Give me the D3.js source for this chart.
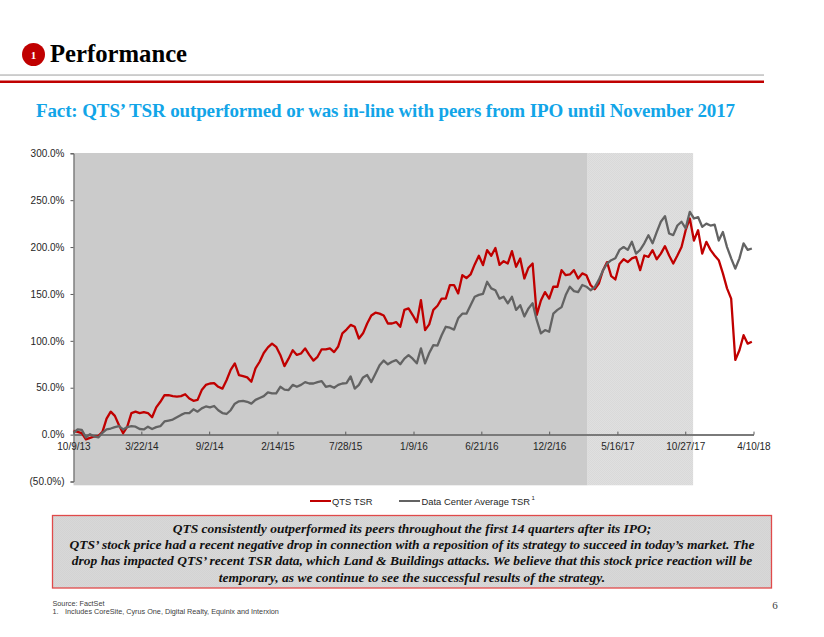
<!DOCTYPE html>
<html>
<head>
<meta charset="utf-8">
<script src="https://cdn.jsdelivr.net/npm/d3@7"></script>
<style>
html, body { margin: 0; padding: 0; background: #fff; }
svg { display: block; }
.sans { font-family: "Liberation Sans", Arial, sans-serif; }
.serif { font-family: "Liberation Serif", "Times New Roman", serif; }
.axis text { font-family: "Liberation Sans", Arial, sans-serif; font-size: 10px; fill: #262626; }
</style>
</head>
<body>
<svg id="chart" width="824" height="637"></svg>
<script>
// one reading every 10 days from the IPO date, % TSR
var startDate = "10/9/13";
var endDate = "4/10/18";
var stepDays = 10;

var qtsTsr = [
	4,3,1.5,-5,-3.5,-2,-1.5,3,17,24.5,
	20,10,1.5,8.5,23,24.5,23,24,23,18.5,
	29,35,42,42,41,40.5,41,43,38.5,36,
	37,47.5,53,54.5,55,51,49,58,69,76,
	63.5,62.4,61,56.4,70.6,77.7,87,93,97,93.6,
	85,73,81,90,85,86.5,92,85,79,83,
	91,91,92,88,94,108,112,117,115,102.5,
	108,118.5,127,130,129,127,118.5,118.5,120,115,
	133,134.6,127.5,119.7,143.5,111.5,117.6,133,137.4,145,
	145,159.5,159.5,150.6,170,167,170.8,181.5,190.7,180.8,
	196.7,190.7,199,181,185,182.5,195.7,179,187.8,166.5,
	178,182.5,127.5,143,152,145,157.7,157.7,175.4,170,
	170.8,175.4,166.5,171.9,170,159.5,155,161,175,184,
	169,165.5,182,187,184,188,189.6,175.4,191,189.6,
	196.7,187,193,201,191,182.5,191,200,218,230.5,
	207,218,193,205.6,197,191,186,172,156,145,
	79.6,90,106,97,99
];

var dataCenterTsr = [
	2,5.5,5,-3,0.5,-2,-3,2,5.5,6.5,
	8,9,5.5,8,9,8.5,6,5.5,8.5,6,
	8,9,14,15,16,18.5,21,23,23,27,
	24.5,28,30,29,30.5,26,23,22,26,33,
	35.5,36,35,33,37,39,41,45,44,44,
	51,48,47.5,53,51,53,56,54.5,54.5,56,
	57,51,52,50,53,54.5,55,62,49,53,
	61,63.5,56,65,74,79,75,77.7,79.5,75,
	81,84.7,81,76,92,76,87,95.4,95,106,
	115,114,112,124,129,129,138,147,149,150,
	163,156,154,145,147,140,147,133,138,126,
	134.6,140,122,108,111.5,109.7,129,133,136,148.8,
	157.7,153,152,159.5,157.7,154,157,165,175,182.5,
	186,188,197,200,197,205.6,193,197,204,212.7,
	204,216,227,233,214.5,212.7,223,227,220,237.6,
	230.5,232,221.6,225,223,224,207,216,200,188,
	177,188,204,197,198.5
];

var dateTicks = ["10/9/13","3/22/14","9/2/14","2/14/15","7/28/15","1/9/16","6/21/16","12/2/16","5/16/17","10/27/17","4/10/18"];
var valueTicks = [-50,0,50,100,150,200,250,300];
var darkShadeEnd = "3/5/17";
var lightShadeEnd = "11/15/17";

var noteLines = [
	"QTS consistently outperformed its peers throughout the first 14 quarters after its IPO;",
	"QTS\u2019 stock price had a recent negative drop in connection with a reposition of its strategy to succeed in today\u2019s market. The",
	"drop has impacted QTS\u2019 recent TSR data, which Land & Buildings attacks. We believe that this stock price reaction will be",
	"temporary, as we continue to see the successful results of the strategy."
];

var parseDate = d3.timeParse("%-m/%-d/%y");
var formatDate = d3.timeFormat("%-m/%-d/%y");
var formatValue = function(d) {
	return d < 0 ? "(" + Math.abs(d).toFixed(1) + "%)" : d.toFixed(1) + "%";
};

var svg = d3.select("#chart");
var defs = svg.append("defs");

var addDither = function(id, c1, c2) {
	var p = defs.append("pattern").attr("id", id).attr("width", 2).attr("height", 2)
		.attr("patternUnits", "userSpaceOnUse");
	p.append("rect").attr("width", 2).attr("height", 2).attr("fill", c1);
	p.append("rect").attr("width", 1).attr("height", 1).attr("fill", c2);
	p.append("rect").attr("x", 1).attr("y", 1).attr("width", 1).attr("height", 1).attr("fill", c2);
};
addDither("lightDither", "#e0e0e0", "#d9d9d9");
addDither("noteDither", "#d8d8d8", "#d3d3d3");

// header
svg.append("circle").attr("cx", 33.5).attr("cy", 54.5).attr("r", 11.5).attr("fill", "#c00000");
svg.append("text").attr("class", "serif").attr("x", 33.5).attr("y", 58.5)
	.attr("text-anchor", "middle").attr("font-size", 11).attr("font-weight", "bold")
	.attr("fill", "#fff").text("1");
svg.append("text").attr("class", "serif").attr("x", 50).attr("y", 62)
	.attr("font-size", 24.7).attr("font-weight", "bold").attr("fill", "#000").text("Performance");
svg.append("rect").attr("x", 0).attr("y", 74.3).attr("width", 764).attr("height", 1.5).attr("fill", "#bfbfbf");
svg.append("rect").attr("x", 0).attr("y", 80.5).attr("width", 764).attr("height", 2.5).attr("fill", "#c00000");
svg.append("text").attr("class", "serif").attr("x", 36).attr("y", 117)
	.attr("font-size", 19).attr("font-weight", "bold").attr("fill", "#12a5e8")
	.attr("textLength", 699).attr("lengthAdjust", "spacing")
	.text("Fact: QTS\u2019 TSR outperformed or was in-line with peers from IPO until November 2017");

// scales
var x = d3.scaleTime().domain([parseDate(startDate), parseDate(endDate)]).range([73.5, 753.5]);
var y = d3.scaleLinear().domain([-50, 300]).range([481.5, 153.3]);

// shaded periods
svg.append("rect").attr("x", x.range()[0]).attr("y", 153)
	.attr("width", x(parseDate(darkShadeEnd)) - x.range()[0]).attr("height", 332.3).attr("fill", "#cbcbcb");
svg.append("rect").attr("x", x(parseDate(darkShadeEnd))).attr("y", 153)
	.attr("width", x(parseDate(lightShadeEnd)) - x(parseDate(darkShadeEnd))).attr("height", 332.3)
	.attr("fill", "url(#lightDither)");

// axes
var yAxis = d3.axisLeft(y).tickValues(valueTicks).tickFormat(formatValue).tickSize(3).tickPadding(6);
var gy = svg.append("g").attr("class", "axis").attr("transform", "translate(" + x.range()[0] + ",0)").call(yAxis);
gy.selectAll("path,line").attr("stroke", "#595959");

var xAxis = d3.axisBottom(x).tickValues(dateTicks.map(parseDate)).tickFormat(formatDate)
	.tickSize(-3).tickSizeOuter(0).tickPadding(8);
var gx = svg.append("g").attr("class", "axis").attr("transform", "translate(0," + y(0) + ")").call(xAxis);
gx.select("path").attr("stroke", "#7a7a7a").attr("stroke-width", 2);
gx.selectAll("line").attr("stroke", "#595959");

// series
var sampleDate = function(i) {
	return d3.timeDay.offset(parseDate(startDate), i * stepDays);
};
var line = d3.line()
	.x(function(d, i) { return x(sampleDate(i)); })
	.y(function(d) { return y(d); })
	.curve(d3.curveLinear);

svg.append("path").datum(qtsTsr).attr("d", line).attr("fill", "none")
	.attr("stroke", "#c00000").attr("stroke-width", 2.3).attr("stroke-linejoin", "round");
svg.append("path").datum(dataCenterTsr).attr("d", line).attr("fill", "none")
	.attr("stroke", "#636363").attr("stroke-width", 2.3).attr("stroke-linejoin", "round");

// legend
svg.append("line").attr("x1", 310).attr("x2", 331).attr("y1", 501).attr("y2", 501)
	.attr("stroke", "#c00000").attr("stroke-width", 2);
svg.append("text").attr("class", "sans").attr("x", 332).attr("y", 505)
	.attr("font-size", 9.4).attr("fill", "#262626").text("QTS TSR");
svg.append("line").attr("x1", 399).attr("x2", 420).attr("y1", 501).attr("y2", 501)
	.attr("stroke", "#636363").attr("stroke-width", 2);
svg.append("text").attr("class", "sans").attr("x", 421.5).attr("y", 505)
	.attr("font-size", 9.4).attr("fill", "#262626").text("Data Center Average TSR");
svg.append("text").attr("class", "sans").attr("x", 531.5).attr("y", 500)
	.attr("font-size", 6).attr("fill", "#262626").text("1");

// note box
svg.append("rect").attr("x", 52.5).attr("y", 515.5).attr("width", 719).attr("height", 72.5)
	.attr("fill", "url(#noteDither)").attr("stroke", "#e04a4a").attr("stroke-width", 1.3);
svg.selectAll("text.note").data(noteLines).enter().append("text")
	.attr("class", "note serif")
	.attr("x", 412)
	.attr("y", function(d, i) { return 533 + i * 16.2; })
	.attr("text-anchor", "middle")
	.attr("font-size", 13.5).attr("font-weight", "bold").attr("font-style", "italic")
	.attr("fill", "#111")
	.text(function(d) { return d; });

// footer
svg.append("text").attr("class", "sans").attr("x", 52.5).attr("y", 605.5)
	.attr("font-size", 7.25).attr("fill", "#404040").text("Source: FactSet");
svg.append("text").attr("class", "sans").attr("x", 52.5).attr("y", 614)
	.attr("font-size", 7.25).attr("fill", "#404040").text("1.");
svg.append("text").attr("class", "sans").attr("x", 65).attr("y", 614)
	.attr("font-size", 7.25).attr("fill", "#404040").text("Includes CoreSite, Cyrus One, Digital Realty, Equinix and Interxion");
svg.append("text").attr("class", "serif").attr("x", 775).attr("y", 609)
	.attr("text-anchor", "middle").attr("font-size", 11).attr("fill", "#404040").text("6");
</script>
</body>
</html>
